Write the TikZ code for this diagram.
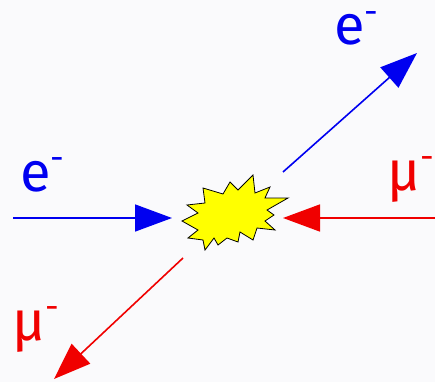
\documentclass[tikz,border=0pt]{standalone}
\usepackage{fontspec}
\setmainfont{Fira Sans}
\usetikzlibrary{arrows.meta}
\definecolor{paper}{HTML}{FAFAFC}
\definecolor{ecol}{HTML}{0000F0}
\definecolor{mucol}{HTML}{F00000}
\definecolor{flash}{HTML}{FFFF00}
\newcommand{\chargeminus}{\raisebox{0.38em}{\fontsize{34}{34}\selectfont -}}

\begin{document}
\begin{tikzpicture}[x=1pt, y=-1pt,
  track/.style={line width=1.6pt, -{Triangle[length=37pt, width=27pt]}},
  etrack/.style={track, draw=ecol},
  mutrack/.style={track, draw=mucol},
  plab/.style={inner sep=0pt, font=\fontsize{56}{56}\selectfont}]
\useasboundingbox (0,0) rectangle (435,382);
\fill[paper] (0,0) rectangle (435,382);
% collision flash
\draw[fill=flash, line width=0.8pt, line join=miter]
  (182,221) -- (198,213) -- (187,205) -- (205,203) -- (203,188) -- (223,194)
  -- (230,182) -- (238,190) -- (253,175) -- (255,193) -- (270,187) -- (265,198)
  -- (288,198) -- (267,210) -- (274,215) -- (265,221) -- (275,230) -- (257,228)
  -- (253,240) -- (240,232) -- (238,242) -- (227,238) -- (218,245) -- (214,238)
  -- (205,250) -- (203,240) -- (188,238) -- (198,230) -- cycle;
% end points of the tracks
\coordinate (eInStart) at (13,218);
\coordinate (eInEnd) at (172,218);
\coordinate (muInStart) at (435,218);
\coordinate (muInEnd) at (283,218);
\coordinate (eOutStart) at (283,172);
\coordinate (eOutEnd) at (417,53);
\coordinate (muOutStart) at (183,258);
\coordinate (muOutEnd) at (54,379);
% tracks
\draw[etrack] (eInStart) -- (eInEnd);
\draw[mutrack] (muInStart) -- (muInEnd);
\draw[etrack] (eOutStart) -- (eOutEnd);
\draw[mutrack] (muOutStart) -- (muOutEnd);
% labels
\node[plab, text=ecol, anchor=base west] (eIn) at (20,191) {e\chargeminus};
\node[plab, text=ecol, anchor=base west] (eOut) at (334,45) {e\chargeminus};
\node[plab, text=mucol, anchor=base west] (muIn) at (387,190) {μ\chargeminus};
\node[plab, text=mucol, anchor=base west] (muOut) at (12,340) {μ\chargeminus};
\end{tikzpicture}
\end{document}
